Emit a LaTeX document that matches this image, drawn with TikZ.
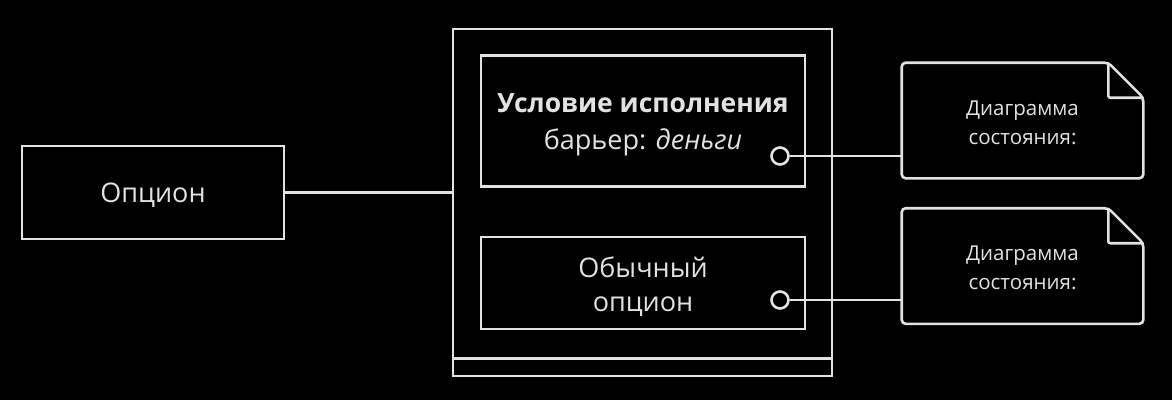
\documentclass[tikz,border=0pt]{standalone}
\usepackage{fontspec}
\setmainfont{Open Sans}
\definecolor{fg}{RGB}{226,226,226}

\begin{document}
\begin{tikzpicture}[x=1pt, y=-1pt, line width=2.6pt, color=fg,
	box/.style={draw, inner sep=0pt},
	txt/.style={inner sep=0pt, align=center},
	port/.style={circle, draw, fill=black, inner sep=0pt, minimum size=17pt},
	notebox/.style={inner sep=0pt, minimum width=239pt, minimum height=113pt}]
		\fill[black] (0,0) rectangle (1172,400);
		\useasboundingbox (0,0) rectangle (1172,400);
		
		\node[box, minimum width=262pt, minimum height=93pt] (opt) at (153,192.5) {};
		\node[txt, font=\fontsize{27}{30}\selectfont] (opttext) at ([yshift=-3pt]opt.center) {Опцион};
		
		\node[box, minimum width=379pt, minimum height=347pt] (cont) at (642.5,202.5) {};
		\draw ([yshift=19pt]cont.south west) -- ([yshift=19pt]cont.south east);
		
		\node[box, minimum width=324pt, minimum height=131pt] (cond) at (643,121) {};
		\node[txt, font=\fontsize{27}{37}\selectfont] (condtext) at ([yshift=-3.5pt]cond.center)
		{{\fontsize{26.5}{37}\selectfont\bfseries Условие исполнения}\\барьер: \textit{деньги}};
		\node[box, minimum width=324pt, minimum height=92pt] (plain) at (643,283) {};
		\node[txt, font=\fontsize{27}{34}\selectfont] (plaintext) at ([yshift=-3.5pt]plain.center) {Обычный\\опцион};
		
		\node[port] (p1) at (780,156) {};
		\node[port] (p2) at (780,300) {};
		
		\node[notebox] (n1) at (1022.5,120.5) {};
		\node[notebox] (n2) at (1022.5,266) {};
		
		% folded notes
		\foreach \n in {n1,n2} {
			\node[txt, font=\fontsize{20.5}{29}\selectfont] (\n text) at ([yshift=-2pt]\n.center) {Диаграмма\\состояния:};
			\draw[rounded corners=4pt] (\n.north west) -- ([xshift=-35pt]\n.north east)
			-- ([yshift=-35pt]\n.north east) -- (\n.south east) -- (\n.south west) -- cycle;
			\draw[rounded corners=2pt] ([xshift=-35pt]\n.north east) -- ([xshift=-35pt,yshift=-35pt]\n.north east)
			-- ([yshift=-35pt]\n.north east);
		}
		
		\draw (opt.east) -- (cont.west |- opt.east);
		\draw (p1.east) -- (p1.east -| n1.west);
		\draw (p2.east) -- (p2.east -| n2.west);
		
	\end{tikzpicture}
\end{document}
